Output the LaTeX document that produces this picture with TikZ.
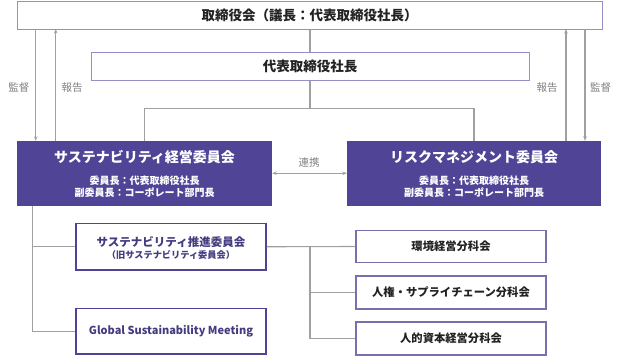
\documentclass[tikz,border=0pt]{standalone}
\usepackage{fontspec}
\setmainfont{Noto Sans CJK JP}
\usetikzlibrary{arrows.meta}
\definecolor{purp}{RGB}{80,68,150}
\definecolor{lav}{RGB}{150,142,196}
\definecolor{boxedge}{RGB}{120,112,172}
\definecolor{ptext}{RGB}{68,60,128}
\definecolor{conn}{RGB}{160,160,160}
\definecolor{lbl}{RGB}{128,128,128}
\definecolor{dark}{RGB}{34,34,34}
\tikzset{
  topbox/.style={draw=lav, line width=1pt, fill=white, minimum height=28pt, inner sep=0pt, text=dark, font=\bfseries\fontsize{13.5}{16}\selectfont},
  purpbox/.style={fill=purp, draw=none, minimum width=255pt, minimum height=64.5pt, inner sep=0pt, text=white},
  subbox/.style={draw=purp, line width=1.8pt, fill=white, minimum width=190pt, inner sep=0pt, text=ptext, align=center},
  smallbox/.style={draw=boxedge, line width=1.2pt, fill=white, minimum width=190pt, minimum height=32.5pt, inner sep=0pt, text=dark, font=\bfseries\fontsize{11.3}{13}\selectfont},
  wire/.style={draw=conn, line width=1.1pt},
  arr/.style={wire, -{Stealth[length=4.5pt,width=3.5pt]}},
  darr/.style={wire, {Stealth[length=4.5pt,width=3.5pt]}-{Stealth[length=4.5pt,width=3.5pt]}},
  lab/.style={text=lbl, font=\fontsize{10.5}{12}\selectfont, inner sep=0pt}
}
\begin{document}
\begin{tikzpicture}[x=1pt,y=-1pt]
\useasboundingbox (0,0) rectangle (620,356);
% boxes
\node[topbox, minimum width=585pt] (board) at (309.5,15) {取締役会（議長：代表取締役社長）};
\node[topbox, minimum width=438pt, minimum height=28.5pt] (pres) at (310,66.5) {代表取締役社長};
\node[purpbox] (sus) at (144.5,173.25) {};
\node[purpbox, minimum width=254pt] (risk) at (474,173.25) {};
\node[text=white, font=\bfseries\fontsize{14}{16}\selectfont, inner sep=0pt] (sust) at (144.5,157) {サステナビリティ経営委員会};
\node[text=white, font=\bfseries\fontsize{10}{11.6}\selectfont, align=center, inner sep=0pt] (susd) at (144.5,186.5) {委員長：代表取締役社長\\副委員長：コーポレート部門長};
\node[text=white, font=\bfseries\fontsize{14}{16}\selectfont, inner sep=0pt] (riskt) at (474,157) {リスクマネジメント委員会};
\node[text=white, font=\bfseries\fontsize{10}{11.6}\selectfont, align=center, inner sep=0pt] (riskd) at (474,186.5) {委員長：代表取締役社長\\副委員長：コーポレート部門長};
\node[subbox, minimum height=46.5pt] (prom) at (171,246.75) {};
\node[text=ptext, inner sep=0pt] (promt) at (171,241.7) {\bfseries\fontsize{11.5}{13}\selectfont サステナビリティ推進委員会};
\node[text=ptext, inner sep=0pt] (promd) at (171,255) {\bfseries\fontsize{9.2}{11}\selectfont （旧サステナビリティ委員会）};
\node[subbox, minimum height=45.5pt, font=\bfseries\fontsize{11}{13}\selectfont] (gsm) at (171,331.25) {Global Sustainability Meeting};
\node[smallbox, minimum height=32pt] (env) at (451,246.5) {環境経営分科会};
\node[smallbox, minimum height=33pt] (hr) at (451,292.5) {人権・サプライチェーン分科会};
\node[smallbox, minimum height=33pt] (hc) at (451,338.5) {人的資本経営分科会};
% connectors
\draw[wire] (pres.north |- board.south) -- (pres.north);
\coordinate (bus) at (310,108.3);
\draw[wire] (pres.south) -- (bus);
\draw[wire] (sus.north) |- (bus) -| (risk.north);
% supervise / report left
\coordinate (l1t) at (35.7,29);
\coordinate (l2t) at (55.7,29);
\draw[arr] (l1t) -- (l1t |- sus.north);
\draw[arr] (l2t |- sus.north) -- (l2t);
\coordinate (r1t) at (566,29);
\coordinate (r2t) at (585,29);
\draw[arr] (r1t |- risk.north) -- (r1t);
\draw[arr] (r2t) -- (r2t |- risk.north);
\node[lab] (k1) at (19,88) {監督};
\node[lab] (h1) at (72,88) {報告};
\node[lab] (h2) at (547,88) {報告};
\node[lab] (k2) at (600.5,88) {監督};
% collaboration
\draw[darr] (sus.east) -- (risk.west);
\node[lab] (coop) at (309,162.7) {連携};
% left tree
\coordinate (tr) at (32.7,205.5);
\draw[wire] (tr) |- (gsm.west);
\draw[wire] (tr) |- (prom.west);
% right tree
\coordinate (jn) at (310,246.7);
\draw[wire] (prom.east) -- (env.west);
\draw[wire] (jn) |- (hr.west);
\draw[wire] (jn) |- (hc.west);
\end{tikzpicture}
\end{document}
